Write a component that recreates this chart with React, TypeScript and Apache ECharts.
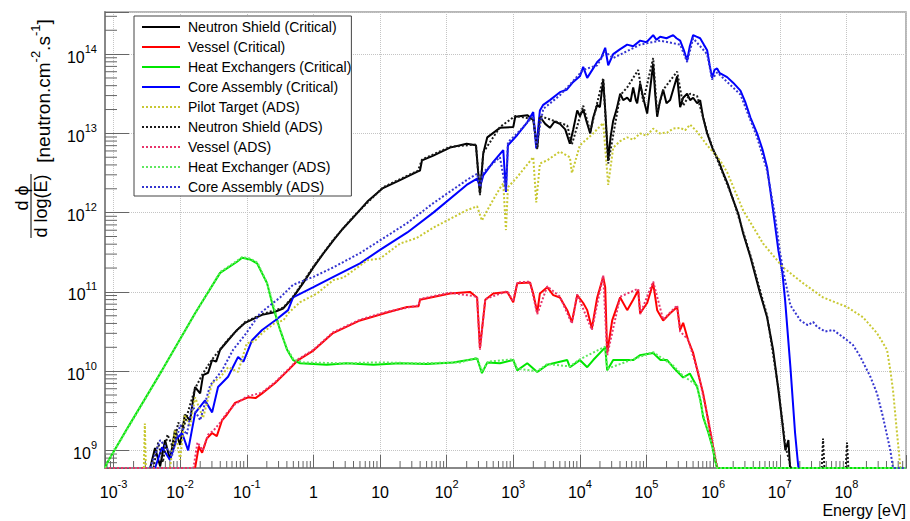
import { useEffect, useRef } from 'react';
import * as echarts from 'echarts';

const FONT = "'Liberation Sans', Arial, Helvetica, sans-serif";

// Energy axis works in log10(E / eV); flux axis is a native log axis
const LX_MIN = -3.128;
const LX_MAX = 8.895;
const Y_MIN = 6.0e8;
const Y_MAX = 3.4e14;

// Empty bins are drawn on the frame floor (log10 of Y_MIN)
const F = 8.7782;

// Each point: [log10(E / eV), log10(dφ/dlog(E))]; null breaks the line
type P = [number, number] | null;

const neutronShieldCritical: P[] = [
  [-2.45, F], [-2.377, 9.03], [-2.3, 8.8], [-2.227, 9.13], [-2.152, 8.88], [-2.077, 9.26], [-2.0, 9.07],
  [-1.93, 9.45], [-1.85, 9.38], [-1.776, 9.8], [-1.7, 9.72], [-1.656, 9.95], [-1.58, 9.98], [-1.52, 10.14],
  [-1.46, 10.12], [-1.4, 10.27], [-1.28, 10.39], [-1.146, 10.52], [-1.025, 10.61], [-0.875, 10.67],
  [-0.77, 10.71], [-0.605, 10.74], [-0.455, 10.79], [-0.305, 10.93], [-0.155, 11.11], [0, 11.31],
  [0.145, 11.48], [0.3, 11.65], [0.445, 11.8], [0.6, 11.94], [0.81, 12.14], [1.045, 12.31], [1.3, 12.41],
  [1.57, 12.52], [1.6, 12.53], [1.63, 12.66], [1.8, 12.72], [2.05, 12.82], [2.3, 12.87], [2.44, 12.85],
  [2.5, 12.24], [2.55, 12.75], [2.61, 12.95], [2.8, 13.07], [3.0, 13.08], [3.03, 13.21], [3.21, 13.23],
  [3.3, 13.17], [3.36, 12.82], [3.4, 13.21], [3.48, 13.12], [3.55, 13.07], [3.62, 13.15], [3.7, 13.12],
  [3.78, 13.05], [3.85, 12.87], [3.9, 13.05], [3.96, 13.29], [4.0, 13.22], [4.05, 13.3], [4.1, 13.15],
  [4.155, 13.0], [4.2, 13.2], [4.26, 13.36], [4.3, 13.33], [4.35, 13.67], [4.38, 13.3], [4.425, 12.66],
  [4.46, 12.95], [4.5, 13.16], [4.55, 13.3], [4.605, 13.5], [4.65, 13.42], [4.71, 13.45], [4.76, 13.4],
  [4.8, 13.58], [4.84, 13.42], [4.86, 13.38], [4.905, 13.63], [4.95, 13.45], [5.01, 13.25], [5.06, 13.6],
  [5.1, 13.88], [5.13, 13.5], [5.16, 13.21], [5.2, 13.4], [5.25, 13.55], [5.3, 13.38], [5.355, 13.42],
  [5.4, 13.55], [5.46, 13.72], [5.505, 13.33], [5.55, 13.45], [5.61, 13.5], [5.655, 13.42], [5.7, 13.45],
  [5.76, 13.38], [5.805, 13.42], [5.85, 13.2], [5.91, 13.0], [6.0, 12.79], [6.08, 12.66], [6.15, 12.5],
  [6.22, 12.36], [6.3, 12.16], [6.38, 11.98], [6.45, 11.74], [6.56, 11.44], [6.63, 11.22], [6.705, 10.98],
  [6.81, 10.68], [6.9, 10.27], [6.98, 9.76], [7.04, 9.34], [7.085, 9.0], [7.13, 9.13], [7.155, F],
];

const vesselCritical: P[] = [
  [-1.776, F], [-1.72, 9.05], [-1.67, 8.97], [-1.6, 9.15], [-1.521, 9.22], [-1.45, 9.18], [-1.371, 9.38],
  [-1.3, 9.45], [-1.176, 9.6], [-0.98, 9.67], [-0.87, 9.66], [-0.77, 9.72], [-0.575, 9.85], [-0.38, 10.01],
  [-0.23, 10.14], [0, 10.26], [0.295, 10.48], [0.7, 10.64], [1.106, 10.74], [1.407, 10.81], [1.58, 10.82],
  [1.6, 10.9], [2.05, 10.98], [2.35, 11.0], [2.457, 10.93], [2.5, 10.29], [2.58, 10.9], [2.7, 10.98],
  [2.91, 11.0], [3.0, 10.87], [3.06, 11.11], [3.25, 11.12], [3.3, 10.98], [3.36, 10.74], [3.4, 10.98],
  [3.51, 11.06], [3.6, 10.96], [3.7, 10.93], [3.81, 10.77], [3.88, 10.62], [3.96, 10.96], [4.05, 10.86],
  [4.11, 10.77], [4.18, 10.54], [4.26, 10.93], [4.35, 11.19], [4.38, 11.06], [4.41, 10.23], [4.485, 10.64],
  [4.605, 10.93], [4.71, 10.77], [4.8, 10.9], [4.875, 11.02], [4.905, 10.73], [5.01, 10.86], [5.1, 11.11],
  [5.16, 10.77], [5.25, 10.64], [5.355, 10.73], [5.46, 10.81], [5.505, 10.52], [5.55, 10.61], [5.625, 10.39],
  [5.7, 10.23], [5.775, 9.97], [5.85, 9.72], [5.925, 9.38], [6.0, 9.04], [6.045, 8.84], [6.06, F],
];

const heatExchangersCritical: P[] = [
  [-3.128, F], [-3.102, 8.836], [-2.782, 9.294], [-2.272, 10.01], [-1.776, 10.73], [-1.4, 11.24],
  [-1.146, 11.38], [-1.07, 11.43], [-0.95, 11.41], [-0.845, 11.36], [-0.695, 11.11], [-0.605, 10.81],
  [-0.5, 10.52], [-0.395, 10.27], [-0.305, 10.14], [-0.2, 10.1], [0.2, 10.08], [0.5, 10.1], [0.9, 10.08],
  [1.3, 10.1], [1.7, 10.09], [2.1, 10.11], [2.457, 10.16], [2.53, 9.975], [2.61, 10.11], [2.8, 10.1],
  [3.0, 10.14], [3.06, 10.01], [3.21, 10.1], [3.36, 9.99], [3.51, 10.08], [3.81, 10.14], [3.85, 10.05],
  [4.0, 10.14], [4.11, 10.05], [4.2, 10.14], [4.38, 10.3], [4.41, 10.01], [4.5, 10.14], [4.8, 10.14],
  [4.9, 10.2], [5.1, 10.23], [5.21, 10.14], [5.31, 10.14], [5.4, 10.05], [5.55, 9.92], [5.65, 9.97],
  [5.76, 9.8], [5.81, 9.63], [5.85, 9.42], [5.93, 9.22], [5.99, 9.04], [6.03, 8.87], [6.06, F], [8.895, F],
];

const coreAssemblyCritical: P[] = [
  [-2.377, F], [-2.272, 9.04], [-2.152, 8.88], [-2.05, 9.15], [-1.971, 9.22], [-1.88, 9.0], [-1.776, 9.47],
  [-1.626, 9.63], [-1.52, 9.48], [-1.431, 9.8], [-1.281, 9.93], [-1.13, 10.18], [-1.05, 10.12], [-0.92, 10.39],
  [-0.77, 10.52], [-0.575, 10.64], [-0.38, 10.77], [-0.305, 10.93], [0, 11.06], [0.3, 11.19], [0.7, 11.36],
  [1.0, 11.53], [1.41, 11.75], [1.8, 12.0], [2.3, 12.35], [2.457, 12.43], [2.5, 12.32], [2.55, 12.47],
  [2.7, 12.64], [2.85, 12.79], [2.89, 12.26], [2.92, 12.85], [3.06, 12.98], [3.21, 13.14], [3.3, 13.27],
  [3.345, 12.81], [3.4, 13.29], [3.45, 13.36], [3.55, 13.42], [3.7, 13.52], [3.8, 13.55], [3.9, 13.65],
  [4.0, 13.72], [4.05, 13.84], [4.11, 13.7], [4.2, 13.82], [4.26, 13.9], [4.32, 13.95], [4.38, 14.08],
  [4.425, 13.86], [4.5, 14.0], [4.6, 14.06], [4.71, 14.12], [4.8, 14.1], [4.905, 14.17], [5.0, 14.15],
  [5.1, 14.24], [5.15, 14.18], [5.205, 14.22], [5.3, 14.2], [5.4, 14.24], [5.45, 14.2], [5.505, 14.17],
  [5.56, 14.05], [5.61, 13.92], [5.65, 14.1], [5.7, 14.24], [5.75, 14.22], [5.805, 14.2], [5.86, 14.12],
  [5.91, 14.05], [5.95, 13.85], [5.985, 13.7], [6.02, 13.8], [6.06, 13.82], [6.1, 13.76], [6.21, 13.71],
  [6.3, 13.64], [6.41, 13.54], [6.48, 13.4], [6.56, 13.2], [6.66, 13.0], [6.74, 12.8], [6.81, 12.57],
  [6.9, 12.03], [6.98, 11.52], [7.04, 11.24], [7.08, 10.9], [7.16, 10.05], [7.23, 9.22], [7.28, F],
];

const pilotTargetADS: P[] = [
  [-2.545, F], [-2.53, 9.34], [-2.515, F], null,
  [-2.152, F], [-2.077, 9.26], [-2.0, 8.88], [-1.93, 9.45], [-1.85, 9.3], [-1.776, 9.67], [-1.656, 9.41],
  [-1.52, 9.85], [-1.4, 9.92], [-1.28, 10.05], [-1.13, 9.99], [-1.0, 10.35], [-0.88, 10.38], [-0.77, 10.48],
  [-0.575, 10.61], [-0.45, 10.64], [-0.38, 10.73], [-0.2, 10.87], [0.055, 10.98], [0.3, 11.15], [0.45, 11.18],
  [0.6, 11.27], [0.81, 11.4], [1.0, 11.42], [1.3, 11.61], [1.55, 11.68], [1.8, 11.81], [2.3, 12.03],
  [2.457, 12.08], [2.53, 11.9], [2.61, 12.03], [2.8, 12.31], [2.85, 12.37], [2.89, 11.78], [2.92, 12.32],
  [3.06, 12.45], [3.3, 12.7], [3.345, 12.13], [3.4, 12.62], [3.51, 12.66], [3.7, 12.77], [3.85, 12.7],
  [3.88, 12.5], [4.0, 12.85], [4.2, 13.0], [4.35, 13.13], [4.425, 12.35], [4.5, 12.82], [4.6, 12.9],
  [4.71, 12.95], [4.8, 12.92], [4.905, 13.0], [5.0, 12.97], [5.1, 13.06], [5.2, 13.0], [5.31, 13.01],
  [5.4, 13.06], [5.505, 13.07], [5.58, 13.04], [5.655, 13.11], [5.76, 13.02], [5.91, 12.85], [6.105, 12.66],
  [6.21, 12.51], [6.45, 12.03], [6.75, 11.61], [7.05, 11.31], [7.35, 11.11], [7.65, 10.93], [8.01, 10.81],
  [8.25, 10.68], [8.46, 10.48], [8.61, 10.27], [8.66, 10.01], [8.7, 9.76], [8.76, 9.22], [8.81, 8.79],
  [8.83, F], [8.895, F],
];

const neutronShieldADS: P[] = [
  [-2.4, F], [-2.33, 9.1], [-2.26, 8.85], [-2.19, 9.2], [-2.1, 9.02], [-2.03, 9.35], [-1.95, 9.28],
  [-1.86, 9.55], [-1.776, 9.78], [-1.66, 9.97], [-1.52, 10.15], [-1.28, 10.4], [-1.025, 10.62], [-0.77, 10.72],
  [-0.455, 10.8], [-0.305, 10.94], [0, 11.32], [0.3, 11.66], [0.6, 11.95], [1.045, 12.32], [1.57, 12.53],
  [1.63, 12.67], [2.05, 12.83], [2.44, 12.86], [2.5, 12.22], [2.55, 12.76], [2.8, 13.08], [3.03, 13.22],
  [3.3, 13.18], [3.36, 12.8], [3.4, 13.22], [3.81, 13.1], [3.88, 12.86], [4.05, 13.35], [4.155, 13.02],
  [4.35, 13.7], [4.425, 12.62], [4.605, 13.48], [4.71, 13.58], [4.875, 13.8], [4.95, 13.4], [5.1, 13.95],
  [5.16, 13.25], [5.25, 13.55], [5.46, 13.78], [5.55, 13.35], [5.655, 13.5], [5.76, 13.47], [5.91, 13.02],
  [6.0, 12.8], [6.3, 12.17], [6.56, 11.46], [6.81, 10.7], [6.98, 9.78], [7.085, 9.05], [7.17, F], null,
  [7.63, F], [7.65, 9.15], [7.67, F], null,
  [7.99, F], [8.01, 9.1], [8.03, F],
];

const vesselADS: P[] = [
  [-3.128, F], [-1.8, F], [-1.74, 9.1], [-1.66, 9.0], [-1.58, 9.2], [-1.5, 9.25], [-1.4, 9.35], [-1.3, 9.47],
  [-1.18, 9.58], [-1.0, 9.68], [-0.77, 9.73], [-0.575, 9.86], [-0.38, 10.02], [-0.23, 10.15], [0, 10.27],
  [0.295, 10.49], [0.7, 10.65], [1.106, 10.75], [1.58, 10.83], [1.6, 10.91], [2.05, 10.99], [2.457, 10.94],
  [2.5, 10.27], [2.58, 10.91], [2.91, 11.01], [3.0, 10.88], [3.06, 11.12], [3.25, 11.13], [3.36, 10.72],
  [3.51, 11.07], [3.7, 10.94], [3.88, 10.6], [3.96, 10.97], [4.18, 10.52], [4.35, 11.21], [4.41, 10.2],
  [4.605, 10.94], [4.875, 11.04], [4.905, 10.72], [5.1, 11.13], [5.25, 10.65], [5.46, 10.83], [5.505, 10.5],
  [5.625, 10.4], [5.775, 9.98], [5.925, 9.4], [6.045, 8.86], [6.07, F],
];

const heatExchangerADS: P[] = [
  [-3.128, F], [-3.09, 8.85], [-2.75, 9.33], [-2.25, 10.04], [-1.75, 10.76], [-1.4, 11.25], [-1.15, 11.39],
  [-1.07, 11.44], [-0.95, 11.42], [-0.84, 11.37], [-0.7, 11.12], [-0.6, 10.83], [-0.5, 10.53], [-0.4, 10.29],
  [-0.3, 10.15], [-0.15, 10.11], [0.4, 10.1], [1.0, 10.11], [1.6, 10.1], [2.2, 10.11], [2.46, 10.17],
  [2.53, 9.99], [2.62, 10.12], [3.0, 10.15], [3.06, 10.03], [3.36, 10.0], [3.51, 10.09], [3.85, 10.06],
  [4.0, 10.15], [4.38, 10.31], [4.41, 10.03], [4.8, 10.15], [5.1, 10.24], [5.4, 10.07], [5.55, 9.94],
  [5.76, 9.82], [5.85, 9.45], [5.99, 9.06], [6.06, F], [8.895, F],
];

const coreAssemblyADS: P[] = [
  [-2.45, F], [-2.3, 9.13], [-2.12, 8.94], [-2.0, 9.32], [-1.9, 9.2], [-1.82, 9.57], [-1.7, 9.38],
  [-1.55, 9.82], [-1.37, 10.01], [-1.205, 10.27], [-1.025, 10.46], [-0.8, 10.73], [-0.5, 10.93],
  [-0.305, 11.09], [0, 11.19], [0.3, 11.31], [0.7, 11.49], [1.0, 11.65], [1.41, 11.87], [1.8, 12.12],
  [2.3, 12.41], [2.457, 12.49], [2.5, 12.33], [2.55, 12.51], [2.8, 12.7], [2.89, 12.28], [2.92, 12.89],
  [3.06, 13.0], [3.3, 13.22], [3.345, 12.84], [3.45, 13.31], [3.7, 13.48], [4.05, 13.8], [4.26, 13.86],
  [4.38, 14.03], [4.5, 13.95], [4.905, 14.12], [5.205, 14.17], [5.505, 14.12], [5.61, 13.9], [5.7, 14.2],
  [5.91, 14.0], [5.985, 13.68], [6.06, 13.77], [6.41, 13.49], [6.66, 12.95], [6.81, 12.53], [6.93, 11.96],
  [7.0, 11.52], [7.05, 11.27], [7.16, 10.83], [7.31, 10.64], [7.42, 10.58], [7.5, 10.62], [7.56, 10.56],
  [7.68, 10.5], [7.8, 10.52], [7.9, 10.46], [8.01, 10.39], [8.1, 10.33], [8.21, 10.18], [8.36, 9.93],
  [8.46, 9.72], [8.55, 9.42], [8.66, 9.0], [8.7, F], [8.895, F],
];

const SERIES = [
  { name: 'Neutron Shield (Critical)', pts: neutronShieldCritical, color: '#000000', dotted: false },
  { name: 'Vessel (Critical)', pts: vesselCritical, color: '#ff0000', dotted: false },
  { name: 'Heat Exchangers (Critical)', pts: heatExchangersCritical, color: '#00e600', dotted: false },
  { name: 'Core Assembly (Critical)', pts: coreAssemblyCritical, color: '#0000ff', dotted: false },
  { name: 'Pilot Target (ADS)', pts: pilotTargetADS, color: '#c8c832', dotted: true },
  { name: 'Neutron Shield (ADS)', pts: neutronShieldADS, color: '#1a1a1a', dotted: true },
  { name: 'Vessel (ADS)', pts: vesselADS, color: '#e8336b', dotted: true },
  { name: 'Heat Exchanger (ADS)', pts: heatExchangerADS, color: '#5ee85e', dotted: true },
  { name: 'Core Assembly (ADS)', pts: coreAssemblyADS, color: '#3535d0', dotted: true },
];

// Decades spanned by the axes, used for the 2..9 minor ticks of the log axes
const X_DECADES = [-4, -3, -2, -1, 0, 1, 2, 3, 4, 5, 6, 7, 8];
const Y_DECADES = [8, 9, 10, 11, 12, 13, 14];
const MINOR_STEPS = [2, 3, 4, 5, 6, 7, 8, 9];

const xMinorTicks = () => {
  const out: number[] = [];
  X_DECADES.forEach((d) => MINOR_STEPS.forEach((k) => {
    const lx = d + Math.log10(k);
    if (lx > LX_MIN + 1e-4 && lx < LX_MAX - 1e-4) out.push(lx);
  }));
  return out;
};

const yMinorTicks = () => {
  const out: number[] = [];
  Y_DECADES.forEach((d) => MINOR_STEPS.forEach((k) => {
    const v = k * Math.pow(10, d);
    if (v > Y_MIN * 1.0001 && v < Y_MAX * 0.9999) out.push(v);
  }));
  return out;
};

const toXY = (pts: P[]) =>
  pts.map((p) => (p ? [p[0], Math.pow(10, p[1])] : ['-', '-']));

const expLabel = (r: number) => {
  if (r === 0) return '{b|1}';
  if (r === 1) return '{b|10}';
  return `{b|10}{s|${r}}`;
};

// x axis values are already exponents
const xLabel = (v: number) => {
  const r = Math.round(v);
  return Math.abs(v - r) > 1e-6 ? '' : expLabel(r);
};

const yLabel = (v: number) => {
  const e = Math.log10(v);
  const r = Math.round(e);
  return Math.abs(e - r) > 1e-6 ? '' : expLabel(r);
};

const labelRich = {
  b: { fontSize: 16, lineHeight: 22, verticalAlign: 'bottom', fontFamily: FONT, color: '#000' },
  s: { fontSize: 11, lineHeight: 13, verticalAlign: 'top', fontFamily: FONT, color: '#000' },
};

export default function App() {
  const ref = useRef<HTMLDivElement>(null);

  useEffect(() => {
    if (!ref.current) return;
    const chart = echarts.init(ref.current, undefined, { renderer: 'svg' });

    const lineSeries = SERIES.map((s) => ({
      name: s.name,
      type: 'line',
      data: toXY(s.pts),
      showSymbol: false,
      symbol: 'none',
      connectNulls: false,
      clip: true,
      lineStyle: { color: s.color, width: 2, type: s.dotted ? 'dotted' : 'solid' },
      itemStyle: { color: s.color },
      z: 3,
    }));

    chart.setOption({
      animation: false,
      backgroundColor: '#ffffff',
      grid: {
        left: 105, right: 4, top: 12, bottom: 53,
        show: true, borderColor: '#a0a0a0', borderWidth: 1.5, backgroundColor: 'transparent',
      },
      legend: {
        orient: 'vertical',
        left: 134,
        top: 16,
        data: SERIES.map((s) => s.name),
        itemWidth: 38,
        itemHeight: 14,
        itemGap: 6,
        padding: [4, 0, 2, 7],
        backgroundColor: '#ffffff',
        borderColor: '#444444',
        borderWidth: 1,
        selectedMode: false,
        itemStyle: { opacity: 0 },
        textStyle: { fontSize: 14, fontFamily: FONT, color: '#000', padding: [0, 0, 0, 3] },
        z: 10,
      },
      xAxis: {
        type: 'value',
        min: LX_MIN,
        max: LX_MAX,
        splitNumber: 12,
        name: 'Energy [eV]',
        nameLocation: 'end',
        nameGap: 0,
        nameTextStyle: {
          fontSize: 16, fontFamily: FONT, color: '#000',
          align: 'right', verticalAlign: 'top', padding: [34, 0, 0, 0],
        },
        axisLine: { show: true, onZero: false, lineStyle: { color: '#888', width: 2 } },
        axisTick: { show: true, inside: true, length: 13, lineStyle: { color: '#666', width: 1 } },
        axisLabel: {
          margin: 10, formatter: xLabel, rich: labelRich,
          fontFamily: FONT, fontSize: 16, color: '#000',
        },
        splitLine: { show: true, lineStyle: { color: '#c4c4c4', type: 'dotted', width: 1 } },
      },
      yAxis: {
        type: 'log',
        logBase: 10,
        min: Y_MIN,
        max: Y_MAX,
        splitNumber: 6,
        axisLine: { show: true, onZero: false, lineStyle: { color: '#888', width: 2 } },
        axisTick: { show: true, inside: true, length: 24, lineStyle: { color: '#666', width: 1 } },
        axisLabel: {
          margin: 8, formatter: yLabel, rich: labelRich,
          fontFamily: FONT, fontSize: 16, color: '#000',
        },
        splitLine: { show: true, lineStyle: { color: '#c4c4c4', type: 'dotted', width: 1 } },
      },
      graphic: [
        {
          type: 'text', x: 22, y: 198, rotation: Math.PI / 2,
          style: { text: 'd ϕ', font: `18px ${FONT}`, fill: '#000', align: 'center', verticalAlign: 'middle' },
        },
        {
          type: 'line', shape: { x1: 31, y1: 174, x2: 31, y2: 238 },
          style: { stroke: '#000', lineWidth: 1 },
        },
        {
          type: 'text', x: 41, y: 206, rotation: Math.PI / 2,
          style: { text: 'd log(E)', font: `18px ${FONT}`, fill: '#000', align: 'center', verticalAlign: 'middle' },
        },
        {
          type: 'text', x: 41, y: 91, rotation: Math.PI / 2,
          style: {
            text: '{t|[neutron.cm}{u|-2}{t|.s}{u|-1}{t|]}',
            align: 'center', verticalAlign: 'middle',
            rich: {
              t: { fontSize: 19, fontFamily: FONT, fill: '#000', lineHeight: 24, verticalAlign: 'bottom' },
              u: { fontSize: 13, fontFamily: FONT, fill: '#000', lineHeight: 14, verticalAlign: 'top' },
            },
          },
        },
      ],
      series: [
        ...lineSeries,
        {
          name: 'x-minor-ticks',
          type: 'custom',
          data: xMinorTicks().map((lx) => [lx, Y_MIN]),
          silent: true,
          z: 1,
          renderItem: (_p: any, api: any) => {
            const pt = api.coord([api.value(0), Y_MIN]);
            return {
              type: 'line',
              shape: { x1: pt[0], y1: pt[1], x2: pt[0], y2: pt[1] - 7 },
              style: { stroke: '#666', lineWidth: 1 },
            };
          },
        },
        {
          name: 'y-minor-ticks',
          type: 'custom',
          data: yMinorTicks().map((v) => [LX_MIN, v]),
          silent: true,
          z: 1,
          renderItem: (_p: any, api: any) => {
            const pt = api.coord([LX_MIN, api.value(1)]);
            return {
              type: 'line',
              shape: { x1: pt[0], y1: pt[1], x2: pt[0] + 12, y2: pt[1] },
              style: { stroke: '#666', lineWidth: 1 },
            };
          },
        },
      ],
    });

    return () => chart.dispose();
  }, []);

  return (
    <div
      ref={ref}
      style={{ position: 'fixed', left: 0, top: 0, width: 910, height: 521, background: '#fff' }}
    />
  );
}
